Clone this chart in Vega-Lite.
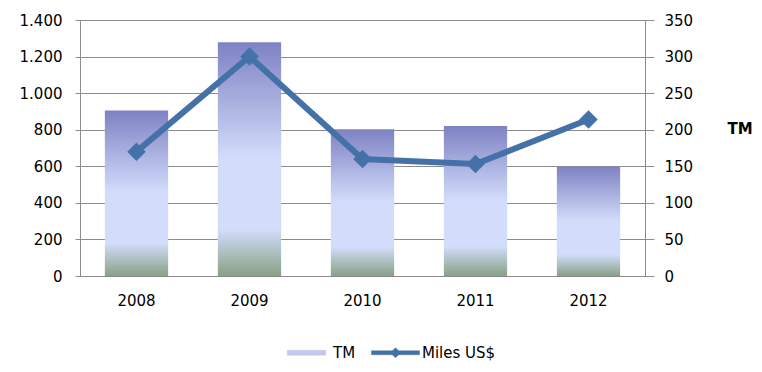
{
  "$schema": "https://vega.github.io/schema/vega-lite/v6.json",
  "width": 565,
  "height": 256,
  "autosize": {"type": "none"},
  "padding": {"left": 80, "top": 20, "right": 117, "bottom": 96},
  "background": "#ffffff",
  "config": {
    "view": {"stroke": null},
    "font": "DejaVu Sans",
    "axis": {"labelFont": "DejaVu Sans", "labelFontSize": 15, "labelColor": "#000000", "domainColor": "#8c8c8c", "tickColor": "#8c8c8c", "gridColor": "#8c8c8c", "labelOverlap": false, "labelFlush": false},
    "legend": {
      "title": null, "orient": "none", "direction": "horizontal",
      "symbolSize": 2304, "labelFontSize": 15, "labelFont": "DejaVu Sans", "labelColor": "#000000", "labelOffset": 2, "columnPadding": 14,
      "symbolOpacity": 1
    }
  },
  "data": {
    "values": [
      {"year": "2008", "tm": 905, "miles": 170},
      {"year": "2009", "tm": 1278, "miles": 300},
      {"year": "2010", "tm": 802, "miles": 160},
      {"year": "2011", "tm": 820, "miles": 153},
      {"year": "2012", "tm": 598, "miles": 214}
    ]
  },
  "encoding": {
    "x": {
      "field": "year", "type": "nominal",
      "scale": {"paddingInner": 0.44, "paddingOuter": 0.22},
      "axis": {"title": null, "labelAngle": 0, "ticks": false, "labelPadding": 17, "domainColor": "#8c8c8c"}
    }
  },
  "layer": [
    {
      "mark": {"type": "bar", "fill": {"gradient": "linear", "x1": 0, "y1": 0, "x2": 0, "y2": 1, "stops": [
        {"offset": 0, "color": "#7e82c3"},
        {"offset": 0.5, "color": "#d3ddfb"},
        {"offset": 0.8, "color": "#d3ddfb"},
        {"offset": 1, "color": "#88a186"}
      ]}},
      "encoding": {
        "y": {
          "field": "tm", "type": "quantitative",
          "scale": {"domain": [0, 1400], "nice": false},
          "axis": {"title": null, "values": [0, 200, 400, 600, 800, 1000, 1200, 1400], "grid": true, "tickSize": 5, "labelPadding": 13, "labelOverlap": false, "labelExpr": "replace(format(datum.value, ','), ',', '.')", "orient": "left"}
        }
      }
    },
    {
      "encoding": {
        "y": {
          "field": "miles", "type": "quantitative",
          "scale": {"domain": [0, 350], "nice": false},
          "axis": {"orient": "right", "values": [0, 50, 100, 150, 200, 250, 300, 350], "grid": false, "tickSize": 9, "labelPadding": 10, "labelOverlap": false,
            "title": "TM", "titleAngle": 0, "titleFontSize": 15, "titleFontWeight": "bold", "titleFont": "DejaVu Sans", "titleAlign": "left", "titleBaseline": "middle", "titleX": 82, "titleY": 108}
        },
        "color": {
          "datum": "Miles US$", "type": "nominal",
          "scale": {"domain": ["TM", "Miles US$"], "range": ["#c3c8ef", "#4471a8"]},
          "legend": {
            "title": null, "orient": "none", "legendX": 202, "legendY": 308, "direction": "horizontal",
            "encode": {
              "symbols": {"update": {
                "shape": {"signal": "datum.value === 'TM' ? 'M-0.8,-0.1H0.8V0.1H-0.8Z' : 'M-1,-0.08H1V0.08H-1Z M0,-0.21L0.21,0L0,0.21L-0.21,0Z'"},
                "fill": {"signal": "datum.value === 'TM' ? '#c3c8ef' : '#4471a8'"},
                "stroke": {"signal": "datum.value === 'TM' ? '#c3c8ef' : '#4471a8'"},
                "strokeWidth": {"value": 0.5},
                "opacity": {"value": 1}
              }}
            }
          }
        }
      },
      "layer": [
        {"mark": {"type": "line", "strokeWidth": 6}},
        {"mark": {"type": "point", "shape": "diamond", "filled": true, "size": 340, "opacity": 1}}
      ]
    }
  ],
  "resolve": {"scale": {"y": "independent"}}
}
